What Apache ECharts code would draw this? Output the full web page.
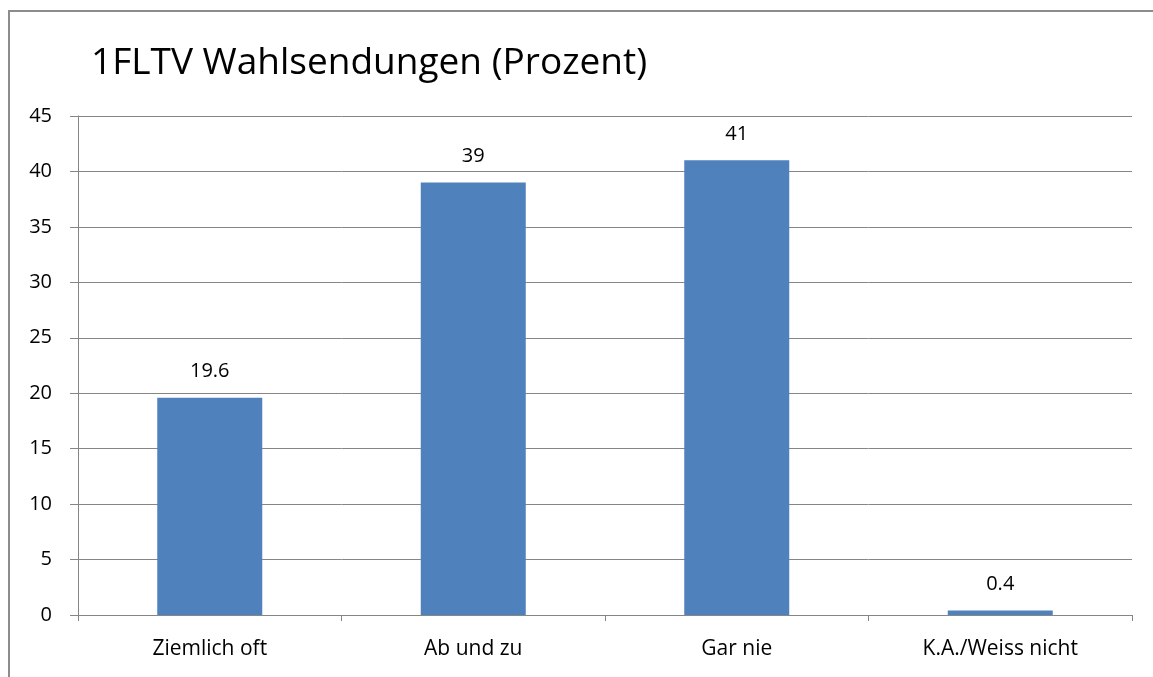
<!DOCTYPE html>
<html>
<head>
<meta charset="utf-8">
<script src="https://cdn.jsdelivr.net/npm/echarts@6/dist/echarts.min.js"></script>
<style>
	html, body { margin: 0; padding: 0; background: #fff; }
	#frame { position: absolute; left: 8px; top: 10px; width: 1160px; height: 680px; border: 2px solid #8c8c8c; box-sizing: border-box; }
	#chart { position: absolute; left: 0; top: 0; width: 1153px; height: 677px; }
</style>
</head>
<body>
<div id="frame"></div>
<div id="chart"></div>
<script>
// kategorien + werte
var categories = ['Ziemlich oft', 'Ab und zu', 'Gar nie', 'K.A./Weiss nicht'];
var percentValues = [19.6, 39, 41, 0.4];
var yTicks = [0, 5, 10, 15, 20, 25, 30, 35, 40, 45];

var fontName = 'Open Sans';

var myChart = echarts.init(document.getElementById('chart'));

var option = {
	animation: false,
	title: {
		text: '1FLTV Wahlsendungen (Prozent)',
		left: 86,
		top: 40,
		textStyle: {
			fontFamily: fontName,
			fontSize: 37,
			fontWeight: 'normal',
			color: '#000'
		}
	},
	grid: {
		left: 78,
		right: 21,
		top: 116,
		bottom: 62
	},
	xAxis: {
		type: 'category',
		data: categories,
		axisLine: { lineStyle: { color: '#868686', width: 1 } },
		axisTick: { show: true, length: 6, lineStyle: { color: '#868686' } },
		axisLabel: {
			fontFamily: fontName,
			fontSize: 21,
			color: '#000',
			margin: 24
		}
	},
	yAxis: {
		type: 'value',
		min: yTicks[0],
		max: yTicks[yTicks.length - 1],
		interval: 5,
		axisLine: { show: true, lineStyle: { color: '#868686', width: 1 } },
		axisTick: { show: true, length: 8, lineStyle: { color: '#868686' } },
		splitLine: { lineStyle: { color: '#868686', width: 1 } },
		axisLabel: {
			fontFamily: fontName,
			fontSize: 20,
			color: '#000',
			margin: 26
		}
	},
	series: [{
		type: 'bar',
		data: percentValues,
		barWidth: 105,
		itemStyle: { color: '#4F81BD' },
		label: {
			show: true,
			position: 'top',
			distance: 16,
			fontFamily: fontName,
			fontSize: 20,
			color: '#000'
		}
	}]
};

myChart.setOption(option);
window.onresize = myChart.resize;
</script>
</body>
</html>
